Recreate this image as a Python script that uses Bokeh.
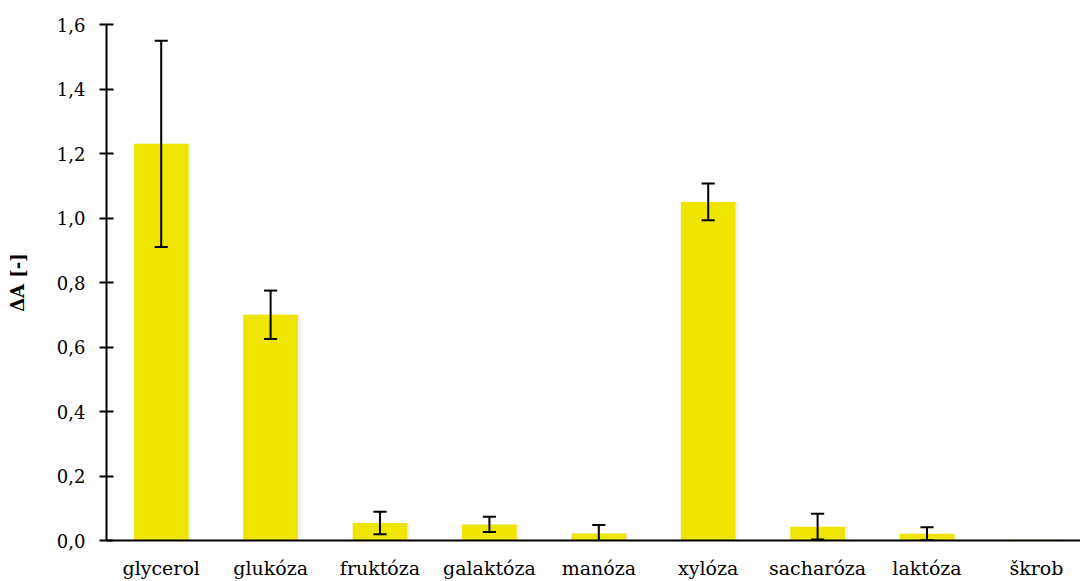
from bokeh.plotting import figure
from bokeh.models import ColumnDataSource, Range1d, FixedTicker
from bokeh.embed import file_html
from bokeh.resources import INLINE

categories = ["glycerol", "glukóza", "fruktóza", "galaktóza", "manóza",
              "xylóza", "sacharóza", "laktóza", "škrob"]
values = [1.230, 0.700, 0.054, 0.050, 0.022, 1.050, 0.043, 0.021, 0.002]
errors = [0.320, 0.075, 0.035, 0.024, 0.026, 0.057, 0.040, 0.020, 0.0]
y_ticks = [0.0, 0.2, 0.4, 0.6, 0.8, 1.0, 1.2, 1.4, 1.6]

FONT = "DejaVu Serif"

xs = list(range(len(categories)))
upper = [v + e for v, e in zip(values, errors)]
lower = [v - e for v, e in zip(values, errors)]
has_err = [e > 0 for e in errors]
cap = 0.06
src = ColumnDataSource(dict(x=xs, top=values))
esrc = ColumnDataSource(dict(
    x=[x for x, h in zip(xs, has_err) if h],
    upper=[u for u, h in zip(upper, has_err) if h],
    lower=[l for l, h in zip(lower, has_err) if h],
    x0=[x - cap for x, h in zip(xs, has_err) if h],
    x1=[x + cap for x, h in zip(xs, has_err) if h],
))

p = figure(width=1080, height=581, output_backend="svg", toolbar_location=None,
           x_range=Range1d(-0.5, 8.403), y_range=Range1d(0, 1.6),
           min_border_left=106, min_border_right=0, min_border_top=24,
           min_border_bottom=39)
p.outline_line_color = None
p.xgrid.visible = False
p.ygrid.visible = False
p.background_fill_color = "white"

p.vbar(x=[x + 0.015 for x in xs], top=values, bottom=0, width=0.52,
       fill_color="#E0E0E0", fill_alpha=0.45, line_color=None)
p.vbar(x="x", top="top", bottom=0, width=0.5, source=src,
       fill_color="#EEE600", line_color=None)

p.segment(x0="x", x1="x", y0="lower", y1="upper", source=esrc,
          line_color="black", line_width=2)
p.segment(x0="x0", x1="x1", y0="upper", y1="upper", source=esrc,
          line_color="black", line_width=2)
p.segment(x0="x0", x1="x1", y0="lower", y1="lower", source=esrc,
          line_color="black", line_width=2)

ya = p.yaxis[0]
ya.ticker = FixedTicker(ticks=y_ticks)
ya.major_label_overrides = {t: f"{t:.1f}".replace(".", ",") for t in y_ticks}
ya.major_label_text_font = FONT
ya.major_label_text_font_size = "18px"
ya.major_label_text_color = "black"
ya.major_label_standoff = 14
ya.axis_line_width = 2
ya.axis_line_color = "black"
ya.major_tick_line_width = 2
ya.major_tick_out = 7
ya.major_tick_in = 7
ya.minor_tick_line_color = None
ya.axis_label = "ΔA [-]"
ya.axis_label_text_font = FONT
ya.axis_label_text_font_style = "bold"
ya.axis_label_text_font_size = "18px"
ya.axis_label_text_color = "black"
ya.axis_label_standoff = 26

xa = p.xaxis[0]
xa.ticker = FixedTicker(ticks=xs)
xa.major_label_overrides = {i: c for i, c in zip(xs, categories)}
xa.major_label_text_font = FONT
xa.major_label_text_font_size = "19px"
xa.major_label_text_color = "black"
xa.major_label_standoff = 16
xa.axis_line_width = 2
xa.axis_line_color = "black"
xa.major_tick_line_color = None
xa.major_tick_out = 0
xa.major_tick_in = 0
xa.minor_tick_line_color = None

open("out.html", "w").write(file_html(p, INLINE))
